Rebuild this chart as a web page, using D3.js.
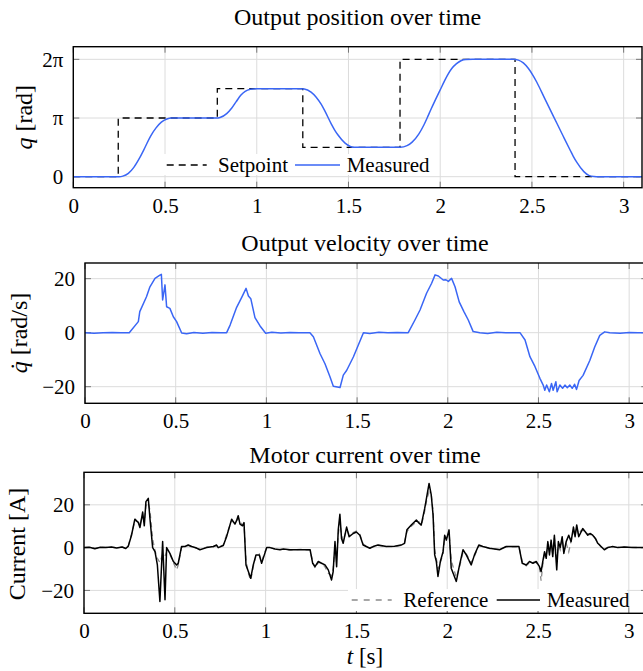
<!DOCTYPE html>
<html>
<head>
<meta charset="utf-8">
<script src="https://cdn.jsdelivr.net/npm/d3@7"></script>
<style>
  html, body { margin: 0; padding: 0; background: #fff; }
  svg { display: block; }
  text { font-family: "Liberation Serif", "Times New Roman", serif; fill: #000; }
</style>
</head>
<body>
<svg id="chart" width="643" height="671"></svg>
<script>
// ---------------- DATA ----------------
const titles = ["Output position over time", "Output velocity over time", "Motor current over time"];
const xTicks = [0, 0.5, 1, 1.5, 2, 2.5, 3];
const xTickLabels = ["0", "0.5", "1", "1.5", "2", "2.5", "3"];
const xMax = 3.1;

// Position panel
const qTicks = [0, 3.1416, 6.2832];
const qTickLabels = ["0", "π", "2π"];
const setpointT = [0, 0.245, 0.785, 1.251, 1.781, 2.408, 3.1];
const setpointQ = [0, 3.1416, 4.7124, 1.5708, 6.2832, 0, 0];
const posT = [0, 0.25, 0.27, 0.30, 0.33, 0.36, 0.39, 0.42, 0.45, 0.48, 0.51, 0.535,
  0.78, 0.80, 0.836, 0.864, 0.888, 0.914, 0.937, 0.965, 0.996,
  1.24, 1.259, 1.296, 1.323, 1.351, 1.369, 1.406, 1.424, 1.443, 1.48, 1.51, 1.535,
  1.782, 1.819, 1.847, 1.883, 1.911, 1.93, 1.948, 1.975, 2.003, 2.021, 2.04, 2.063, 2.089, 2.113, 2.14, 2.177,
  2.398, 2.426, 2.453, 2.481, 2.508, 2.526, 2.57, 2.62, 2.67, 2.71, 2.724, 2.746, 2.783, 2.81, 2.838, 2.865, 3.1];
const posMeas = [0, 0, 0.03, 0.18, 0.5, 0.98, 1.55, 2.15, 2.6, 2.92, 3.09, 3.1416,
  3.1416, 3.17, 3.38, 3.68, 4.02, 4.37, 4.57, 4.68, 4.7124,
  4.7124, 4.70, 4.53, 4.27, 3.88, 3.56, 2.83, 2.51, 2.23, 1.81, 1.62, 1.5708,
  1.5708, 1.66, 1.85, 2.28, 2.77, 3.17, 3.57, 4.14, 4.71, 5.08, 5.44, 5.79, 6.05, 6.21, 6.28, 6.2832,
  6.2832, 6.24, 6.09, 5.79, 5.39, 5.07, 4.18, 3.18, 2.18, 1.39, 1.12, 0.75, 0.27, 0.07, 0.01, 0, 0];

// Velocity panel
const velTicks = [-20, 0, 20];
const velTickLabels = ["−20", "0", "20"];
const velT = [0, 0.05, 0.1, 0.15, 0.2, 0.244, 0.294, 0.302, 0.339, 0.358, 0.386, 0.413, 0.421, 0.428, 0.441, 0.45, 0.468, 0.487, 0.505, 0.533,
  0.56, 0.6, 0.65, 0.7, 0.75, 0.781, 0.80, 0.836, 0.864, 0.888, 0.901, 0.914, 0.937, 0.965, 0.996,
  1.03, 1.08, 1.13, 1.18, 1.24, 1.259, 1.296, 1.323, 1.351, 1.369, 1.406, 1.424, 1.443, 1.48, 1.535,
  1.57, 1.62, 1.67, 1.72, 1.782, 1.819, 1.847, 1.883, 1.911, 1.93, 1.948, 1.975, 1.99, 2.003, 2.021, 2.04, 2.063, 2.089, 2.113, 2.14, 2.177,
  2.22, 2.27, 2.32, 2.398, 2.426, 2.453, 2.481, 2.508, 2.526, 2.535, 2.545, 2.56, 2.572, 2.581, 2.596, 2.603, 2.618, 2.633, 2.646, 2.659, 2.673, 2.686, 2.699, 2.71,
  2.724, 2.746, 2.783, 2.81, 2.838, 2.865, 2.893, 2.95, 3.0, 3.05, 3.1];
const velMeas = [0, -0.2, 0, 0.1, 0, 0, 4.1, 7.8, 13.3, 17.0, 20.1, 21.3, 21.6, 12.1, 17.7, 9.6, 9.0, 5.9, 4.1, -0.1,
  -0.4, 0.1, -0.2, 0.1, 0, 0, 2.8, 9.4, 13.1, 16.4, 13.6, 12.6, 5.6, 2.5, -0.2,
  0.2, -0.1, 0.1, 0, 0, -1.5, -7.8, -11.5, -16.4, -19.8, -20.3, -15.7, -13.9, -8.9, 0,
  -0.3, 0.2, 0, 0.1, 0, 4.7, 8.4, 14.6, 18.3, 21.4, 21.0, 19.5, 19.6, 19.0, 20.1, 17.0, 11.4, 7.8, 4.7, 0.4, 0,
  -0.3, 0.2, 0, 0, -2.7, -8.9, -12.6, -16.9, -19.4, -21.3, -19.4, -21.9, -18.8, -21.3, -18.2, -21.9, -19.4, -20.6, -19.4, -20.4, -19.4, -20.6, -19.1, -21.0,
  -17.7, -15.8, -10.3, -5.3, -1.0, 0.3, 0, -0.2, 0.1, 0, 0];

// Current panel
const curTicks = [-20, 0, 20];
const curTickLabels = ["−20", "0", "20"];
const curT = [0, 0.03, 0.06, 0.09, 0.12, 0.15, 0.18, 0.21, 0.23, 0.244,
  0.262, 0.28, 0.299, 0.308, 0.323, 0.332, 0.341, 0.354, 0.363, 0.378, 0.391, 0.404, 0.418, 0.433, 0.446, 0.455, 0.473, 0.492, 0.51, 0.519, 0.537,
  0.556, 0.574, 0.593, 0.62, 0.638, 0.675, 0.712, 0.73, 0.739, 0.767, 0.785, 0.813, 0.831, 0.84, 0.849, 0.859, 0.873, 0.881, 0.892, 0.905, 0.918,
  0.932, 0.947, 0.965, 0.978, 1.006, 1.024, 1.052, 1.079, 1.098, 1.134, 1.19, 1.245, 1.259, 1.272, 1.29, 1.308, 1.327, 1.345, 1.363, 1.372,
  1.382, 1.391, 1.4, 1.409, 1.418, 1.427, 1.446, 1.46, 1.482, 1.5, 1.519, 1.537, 1.574, 1.592, 1.619, 1.665, 1.71, 1.746, 1.765, 1.778,
  1.802, 1.83, 1.845, 1.857, 1.876, 1.889, 1.9, 1.912, 1.922, 1.931, 1.94, 1.949, 1.962, 1.977, 1.986, 1.995, 2.01, 2.022, 2.05, 2.068,
  2.087, 2.105, 2.132, 2.15, 2.174, 2.196, 2.233, 2.288, 2.325, 2.395, 2.413, 2.435, 2.453, 2.472, 2.49, 2.508, 2.517, 2.526, 2.536, 2.545,
  2.554, 2.563, 2.572, 2.581, 2.59, 2.603, 2.612, 2.622, 2.633, 2.642, 2.655, 2.669, 2.682, 2.695, 2.704, 2.713, 2.724, 2.737, 2.746, 2.761,
  2.774, 2.786, 2.801, 2.816, 2.829, 2.847, 2.865, 2.884, 2.911, 2.939, 2.975, 3.021, 3.067, 3.1];
const curMeas = [0, 0.2, -0.5, 0.2, 0, 0.3, -0.2, 0.3, -0.4, 0.7,
  5.9, 13.3, 11.7, 9.4, 16.6, 10.2, 21.5, 23.0, 13.7, 0, -1.9, -8.1, -25.2, 2.8, -24.4, 0, -2.7, -6.5, -8.1, -7.3, 0.5,
  0.5, 1.2, 0.5, -0.2, -1.0, 0, 0.5, 1.2, 0, 1.0, 5.1, 13.3, 11.0, 12.6, 14.9, 11.0, 10.2, 11.7, -8.1, -11.2, -14.3,
  -8.1, -3.4, -3.4, -7.3, 0, 0, -0.6, -1.0, -0.6, -1.0, -1.0, -1.0, -7.3, -8.9, -6.5, -7.3, -8.1, -10.4, -15.1, -11.2,
  2.8, -8.9, 8.3, 15.6, 4.3, 2.0, 9.6, 5.1, 6.6, 7.3, 5.8, 1.2, -0.3, 0.5, 1.2, 0.5, 0.6, 1.2, 2.0, 8.3,
  10.6, 12.9, 11.4, 10.6, 18.3, 24.6, 30.0, 24.6, 15.3, -3.4, -6.5, -13.5, -6.5, -1.9, 5.8, 3.5, 8.3, -9.6, -15.8, -8.1,
  -1.0, -3.4, -8.1, -3.4, 1.2, 0.5, -0.3, -1.0, 0.5, 0.5, -7.3, -8.1, -6.5, -7.3, -6.5, -8.9, -11.2, -6.5, -1.9, -5.0,
  2.8, -3.4, 3.5, -4.2, 5.8, -10.4, 2.8, 0, 5.1, -2.7, 2.8, 5.8, 2.8, 9.6, 5.1, 10.6, 5.1, 7.3, 8.9, 7.3,
  5.8, 6.6, 5.8, 4.3, 2.0, 0.5, -1.0, 0, 0.5, 0, 0.3, 0, 0.1, 0];
const curRef = [0, 0.1, -0.3, 0.1, 0.1, 0.2, -0.1, 0.2, -0.2, 0.9,
  6.5, 12.5, 12.0, 10.5, 15.0, 12.0, 19.5, 21.0, 17.5, 4.0, -1.5, -5.0, -7.0, -3.0, -4.0, -2.0, -3.0, -7.0, -10.4, -8.0, 0.0,
  0.8, 1.0, 0.3, -0.3, -0.8, 0.2, 0.4, 1.0, 0.2, 1.2, 6.0, 12.5, 11.5, 12.0, 14.0, 12.0, 10.5, 11.0, -6.0, -12.0, -15.3,
  -9.0, -3.8, -3.0, -6.5, 0.3, 0.2, -0.8, -0.8, -0.8, -1.2, -0.8, -1.2, -6.5, -9.5, -7.0, -7.0, -9.0, -12.0, -13.0, -10.0,
  0.0, -4.0, 6.0, 12.0, 6.0, 3.0, 8.5, 6.0, 7.0, 7.8, 6.2, 1.5, 0, 0.3, 1.0, 0.6, 0.4, 1.0, 2.5, 7.5,
  10.0, 12.0, 12.0, 10.0, 17.0, 23.0, 26.0, 25.0, 17.0, -1.0, -5.0, -10.0, -7.0, -3.0, 4.0, 4.0, 7.0, -6.0, -14.0, -9.0,
  -2.0, -3.0, -7.0, -4.0, 0.8, 0.7, -0.5, -0.8, 0.4, 0.3, -6.5, -8.5, -7.0, -6.8, -7.0, -9.5, -15.5, -8.0, -3.0, -4.0,
  1.5, -2.0, 2.5, -3.0, 4.5, -5.0, 1.0, -1.0, 4.0, -2.0, 2.0, -2.0, 3.0, 8.0, 6.0, 9.5, 6.0, 8.0, 8.0, 7.5,
  6.5, 6.0, 6.5, 4.0, 2.5, 0.3, -0.8, 0.2, 0.4, 0.1, 0.2, 0.1, 0, 0];

// ---------------- DRAW ----------------
const svg = d3.select("#chart");
const FONT_TICK = 21, FONT_LABEL = 24, FONT_TITLE = 24;
const BLUE = "#3a66f5";
const GRID = "#dcdcdc";
const TICKC = "#777";

function panel(cfg) {
  const {L, R, T, B, yDom, yTicks, yTickLabels, id} = cfg;
  const g = svg.append("g");
  const x = d3.scaleLinear().domain([0, xMax]).range([L, R]);
  const y = d3.scaleLinear().domain(yDom).range([B, T]);

  g.append("clipPath").attr("id", "clip" + id)
    .append("rect").attr("x", L).attr("y", T).attr("width", R - L).attr("height", B - T);

  // grid
  g.append("g").selectAll("line").data(xTicks).join("line")
    .attr("x1", d => x(d)).attr("x2", d => x(d)).attr("y1", T).attr("y2", B)
    .attr("stroke", GRID).attr("stroke-width", 1);
  g.append("g").selectAll("line").data(yTicks).join("line")
    .attr("x1", L).attr("x2", R).attr("y1", d => y(d)).attr("y2", d => y(d))
    .attr("stroke", GRID).attr("stroke-width", 1);

  // inward ticks on all sides
  const tl = 6;
  const tg = g.append("g").attr("stroke", TICKC).attr("stroke-width", 1);
  tg.selectAll("line.b").data(xTicks).join("line").attr("class", "b")
    .attr("x1", d => x(d)).attr("x2", d => x(d)).attr("y1", B).attr("y2", B - tl);
  tg.selectAll("line.t").data(xTicks).join("line").attr("class", "t")
    .attr("x1", d => x(d)).attr("x2", d => x(d)).attr("y1", T).attr("y2", T + tl);
  tg.selectAll("line.l").data(yTicks).join("line").attr("class", "l")
    .attr("x1", L).attr("x2", L + tl).attr("y1", d => y(d)).attr("y2", d => y(d));
  tg.selectAll("line.r").data(yTicks).join("line").attr("class", "r")
    .attr("x1", R).attr("x2", R - tl).attr("y1", d => y(d)).attr("y2", d => y(d));

  const plot = g.append("g").attr("clip-path", `url(#clip${id})`);

  // tick labels via d3 axes
  const xAxis = d3.axisBottom(x).tickValues(xTicks)
    .tickFormat((d, i) => xTickLabels[i]).tickSize(0).tickPadding(10);
  const xa = g.append("g").attr("transform", `translate(0,${B})`).call(xAxis);
  xa.select(".domain").remove();
  xa.selectAll("text").attr("font-size", FONT_TICK).attr("font-family", "Liberation Serif").attr("fill", "#000");

  const yAxis = d3.axisLeft(y).tickValues(yTicks)
    .tickFormat((d, i) => yTickLabels[i]).tickSize(0).tickPadding(10);
  const ya = g.append("g").attr("transform", `translate(${L},0)`).call(yAxis);
  ya.select(".domain").remove();
  ya.selectAll("text").attr("font-size", FONT_TICK).attr("font-family", "Liberation Serif").attr("fill", "#000");

  return {g, x, y, plot, frame: () => g.append("rect").attr("x", L).attr("y", T)
    .attr("width", R - L).attr("height", B - T).attr("fill", "none")
    .attr("stroke", "#000").attr("stroke-width", 1.4)};
}

// ---- Panel 1: position ----
{
  const p = panel({id: 1, L: 73.3, R: 642, T: 46.7, B: 187.7, yDom: [-0.589, 6.96], yTicks: qTicks, yTickLabels: qTickLabels});
  const sp = setpointT.map((t, i) => [t, setpointQ[i]]);
  p.plot.append("path").datum(sp)
    .attr("d", d3.line().x(d => p.x(d[0])).y(d => p.y(d[1])).curve(d3.curveStepAfter))
    .attr("fill", "none").attr("stroke", "#000").attr("stroke-width", 1.3).attr("stroke-dasharray", "7,5");
  const pm = posT.map((t, i) => [t, posMeas[i]]);
  p.plot.append("path").datum(pm)
    .attr("d", d3.line().x(d => p.x(d[0])).y(d => p.y(d[1])).curve(d3.curveMonotoneX))
    .attr("fill", "none").attr("stroke", BLUE).attr("stroke-width", 1.5);
  // legend
  const lg = p.g.append("g");
  lg.append("rect").attr("x", 160).attr("y", 154).attr("width", 276).attr("height", 21).attr("fill", "#fff");
  lg.append("line").attr("x1", 166.7).attr("x2", 206.7).attr("y1", 165).attr("y2", 165)
    .attr("stroke", "#000").attr("stroke-width", 1.3).attr("stroke-dasharray", "7,5");
  lg.append("text").attr("x", 218).attr("y", 172).attr("font-size", FONT_TICK).text("Setpoint");
  lg.append("line").attr("x1", 295).attr("x2", 340).attr("y1", 165).attr("y2", 165)
    .attr("stroke", BLUE).attr("stroke-width", 1.5);
  lg.append("text").attr("x", 346.7).attr("y", 172).attr("font-size", FONT_TICK).text("Measured");
  p.frame();
  svg.append("text").attr("x", 357.6).attr("y", 25).attr("text-anchor", "middle")
    .attr("font-size", FONT_TITLE).text(titles[0]);
  const yl = svg.append("text").attr("transform", "translate(31.5,117.2) rotate(-90)")
    .attr("text-anchor", "middle").attr("font-size", FONT_LABEL);
  yl.append("tspan").attr("font-style", "italic").text("q");
  yl.append("tspan").text(" [rad]");
}

// ---- Panel 2: velocity ----
{
  const p = panel({id: 2, L: 85, R: 647.3, T: 263, B: 403.3, yDom: [-26.15, 25.8], yTicks: velTicks, yTickLabels: velTickLabels});
  const vm = velT.map((t, i) => [t, velMeas[i]]);
  p.plot.append("path").datum(vm)
    .attr("d", d3.line().x(d => p.x(d[0])).y(d => p.y(d[1])))
    .attr("fill", "none").attr("stroke", BLUE).attr("stroke-width", 1.5).attr("stroke-linejoin", "round");
  p.frame();
  svg.append("text").attr("x", 365).attr("y", 251).attr("text-anchor", "middle")
    .attr("font-size", FONT_TITLE).text(titles[1]);
  const yl = svg.append("text").attr("transform", "translate(26.5,333) rotate(-90)")
    .attr("text-anchor", "middle").attr("font-size", FONT_LABEL);
  yl.append("tspan").attr("font-style", "italic").text("q\u0307");
  yl.append("tspan").text(" [rad/s]");
}

// ---- Panel 3: current ----
{
  const p = panel({id: 3, L: 84, R: 647, T: 472.3, B: 613.3, yDom: [-30.7, 35.2], yTicks: curTicks, yTickLabels: curTickLabels});
  const cr = curT.map((t, i) => [t, curRef[i]]);
  const cm = curT.map((t, i) => [t, curMeas[i]]);
  const line = d3.line().x(d => p.x(d[0])).y(d => p.y(d[1]));
  p.plot.append("path").datum(cr).attr("d", line)
    .attr("fill", "none").attr("stroke", "#8a8a8a").attr("stroke-width", 1.3).attr("stroke-dasharray", "5,4");
  p.plot.append("path").datum(cm).attr("d", line)
    .attr("fill", "none").attr("stroke", "#000").attr("stroke-width", 1.5).attr("stroke-linejoin", "round");
  const lg = p.g.append("g");
  lg.append("rect").attr("x", 348).attr("y", 589).attr("width", 279).attr("height", 22).attr("fill", "#fff");
  lg.append("line").attr("x1", 351.7).attr("x2", 391.7).attr("y1", 600).attr("y2", 600)
    .attr("stroke", "#8a8a8a").attr("stroke-width", 1.3).attr("stroke-dasharray", "6,6");
  lg.append("text").attr("x", 403.3).attr("y", 607).attr("font-size", FONT_TICK).text("Reference");
  lg.append("line").attr("x1", 496.7).attr("x2", 540).attr("y1", 600).attr("y2", 600)
    .attr("stroke", "#000").attr("stroke-width", 1.5);
  lg.append("text").attr("x", 546.7).attr("y", 607).attr("font-size", FONT_TICK).text("Measured");
  p.frame();
  svg.append("text").attr("x", 365).attr("y", 462.5).attr("text-anchor", "middle")
    .attr("font-size", FONT_TITLE).text(titles[2]);
  svg.append("text").attr("transform", "translate(24.5,544) rotate(-90)")
    .attr("text-anchor", "middle").attr("font-size", FONT_LABEL).text("Current [A]");
  const xl = svg.append("text").attr("x", 365).attr("y", 664).attr("text-anchor", "middle").attr("font-size", 23);
  xl.append("tspan").attr("font-style", "italic").text("t");
  xl.append("tspan").text(" [s]");
}
</script>
</body>
</html>
